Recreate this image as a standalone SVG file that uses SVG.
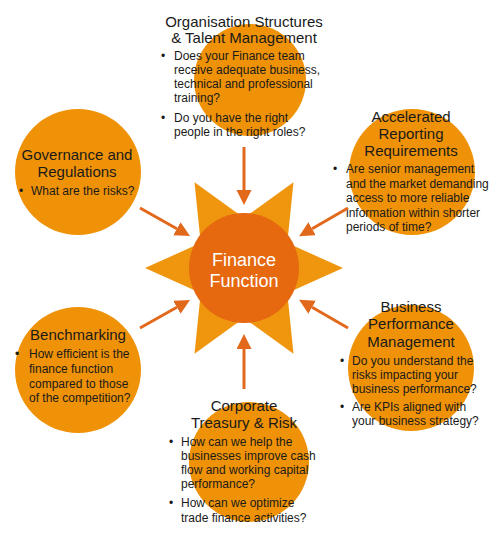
<svg xmlns="http://www.w3.org/2000/svg" width="500" height="539" viewBox="0 0 500 539">
<style>
.c{fill:#EF9207}
.t{font-family:"Liberation Sans",Arial,sans-serif;font-size:15px;fill:#1a1a1a;text-anchor:middle}
.b{font-family:"Liberation Sans",Arial,sans-serif;font-size:12px;fill:#1a1a1a}
.a{stroke:#E2691C;stroke-width:3;fill:none;marker-end:url(#ah)}
</style>
<defs>
<marker id="ah" markerUnits="userSpaceOnUse" markerWidth="16" markerHeight="16" refX="0" refY="7.5" orient="auto">
<path d="M0,0 L15,7.5 L0,15 z" fill="#E2691C"/>
</marker>
</defs>
<rect width="500" height="539" fill="#fff"/>
<g id="organisation">
<circle class="c" cx="250" cy="80" r="56"/>
<text class="t" x="244" y="27">Organisation Structures</text>
<text class="t" x="244" y="43">&amp; Talent Management</text>
<text class="b" x="161" y="60">•</text>
<text class="b" x="174" y="60">Does your Finance team</text>
<text class="b" x="174" y="74">receive adequate business,</text>
<text class="b" x="174" y="88">technical and professional</text>
<text class="b" x="174" y="102">training?</text>
<text class="b" x="161" y="122">•</text>
<text class="b" x="174" y="122">Do you have the right</text>
<text class="b" x="174" y="136">people in the right roles?</text>
</g>
<g id="accelerated">
<circle class="c" cx="412" cy="172" r="63"/>
<text class="t" x="411" y="122">Accelerated</text>
<text class="t" x="411" y="139">Reporting</text>
<text class="t" x="411" y="156">Requirements</text>
<text class="b" x="333" y="173">•</text>
<text class="b" x="346" y="173">Are senior management</text>
<text class="b" x="346" y="187.6">and the market demanding</text>
<text class="b" x="346" y="202.2">access to more reliable</text>
<text class="b" x="346" y="216.8">information within shorter</text>
<text class="b" x="346" y="231.4">periods of time?</text>
</g>
<g id="governance">
<circle class="c" cx="78" cy="172" r="63"/>
<text class="t" x="77" y="160">Governance and</text>
<text class="t" x="77" y="177">Regulations</text>
<text class="b" x="19" y="195">•</text>
<text class="b" x="31" y="195">What are the risks?</text>
</g>
<g id="benchmarking">
<circle class="c" cx="78" cy="370" r="63"/>
<text class="t" x="78" y="340">Benchmarking</text>
<text class="b" x="15" y="358">•</text>
<text class="b" x="29" y="358">How efficient is the</text>
<text class="b" x="29" y="373">finance function</text>
<text class="b" x="29" y="388">compared to those</text>
<text class="b" x="29" y="402">of the competition?</text>
</g>
<g id="business">
<circle class="c" cx="411" cy="368" r="63"/>
<text class="t" x="411" y="312">Business</text>
<text class="t" x="411" y="329">Performance</text>
<text class="t" x="411" y="347">Management</text>
<text class="b" x="340" y="365">•</text>
<text class="b" x="352" y="365">Do you understand the</text>
<text class="b" x="352" y="379">risks impacting your</text>
<text class="b" x="352" y="393">business performance?</text>
<text class="b" x="340" y="411">•</text>
<text class="b" x="352" y="411">Are KPIs aligned with</text>
<text class="b" x="352" y="425">your business strategy?</text>
</g>
<g id="corporate">
<circle class="c" cx="249" cy="462" r="60"/>
<text class="t" x="244" y="411">Corporate</text>
<text class="t" x="244" y="428">Treasury &amp; Risk</text>
<text class="b" x="169" y="446">•</text>
<text class="b" x="181" y="446">How can we help the</text>
<text class="b" x="181" y="460">businesses improve cash</text>
<text class="b" x="181" y="474">flow and working capital</text>
<text class="b" x="181" y="488">performance?</text>
<text class="b" x="169" y="507">•</text>
<text class="b" x="181" y="507">How can we optimize</text>
<text class="b" x="181" y="522">trade finance activities?</text>
</g>
<g id="finance">
<polygon fill="#F0950E" points="343,268 287.3,243 293.5,182.3 244,218 194.5,182.3 200.7,243 145,268 200.7,293 194.5,353.7 244,318 293.5,353.7 287.3,293"/>
<circle cx="244" cy="268" r="55" fill="#E6680F"/>
<text x="244" y="266" font-family="Liberation Sans,Arial,sans-serif" font-size="18" fill="#fff" text-anchor="middle">Finance</text>
<text x="244" y="287" font-family="Liberation Sans,Arial,sans-serif" font-size="18" fill="#fff" text-anchor="middle">Function</text>
</g>
<g id="connectors">
<line class="a" x1="244" y1="147" x2="244" y2="190"/>
<line class="a" x1="244" y1="389" x2="244" y2="349"/>
<line class="a" x1="140" y1="208" x2="176.9" y2="228.7"/>
<line class="a" x1="348" y1="208" x2="312.1" y2="228.7"/>
<line class="a" x1="140" y1="328" x2="176.9" y2="307.3"/>
<line class="a" x1="348" y1="328" x2="312.1" y2="307.3"/>
</g>
</svg>
